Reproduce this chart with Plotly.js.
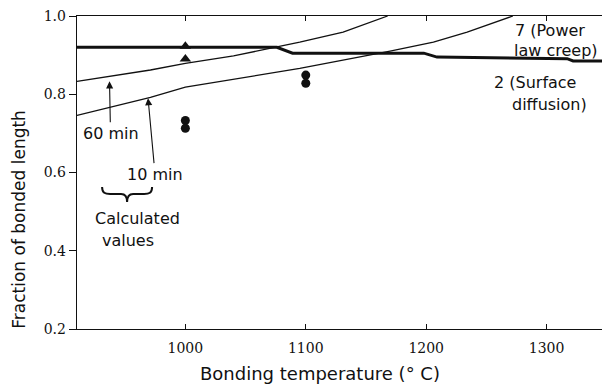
<!DOCTYPE html>
<html>
<head>
<meta charset="utf-8">
<script src="https://cdn.plot.ly/plotly-3.0.1.min.js"></script>
<style>html,body{margin:0;padding:0;background:#fff;}#chart{width:602px;height:385px;}</style>
</head>
<body>
<div id="chart"></div>
<script>
// Calculated curve, 60 min
var temp60 = [910, 937, 971, 1000, 1040, 1076, 1095, 1131, 1168];
var frac60 = [0.833, 0.846, 0.862, 0.879, 0.898, 0.921, 0.933, 0.959, 1.0];
// Calculated curve, 10 min
var temp10 = [910, 971, 1000, 1040, 1095, 1170, 1206, 1234, 1272];
var frac10 = [0.746, 0.792, 0.818, 0.838, 0.866, 0.910, 0.933, 0.959, 1.0];
// Mechanism 2 (surface diffusion) boundary
var tempSurf = [910, 1076, 1089, 1198, 1209, 1317, 1322, 1346];
var fracSurf = [0.920, 0.920, 0.905, 0.905, 0.895, 0.891, 0.885, 0.885];
// Experimental points
var tempTri = [1000, 1000];
var fracTri = [0.923, 0.890];
var tempDot = [1000, 1000, 1100, 1100];
var fracDot = [0.733, 0.713, 0.849, 0.828];
// Axis ticks
var xTicks = [1000, 1100, 1200, 1300];
var yTicks = [0.2, 0.4, 0.6, 0.8, 1.0];

var ink = '#111';
var sans = 'DejaVu Sans, sans-serif';

var traces = [
  {x: temp60, y: frac60, mode: 'lines', line: {color: ink, width: 1.3}, name: '60 min', hoverinfo: 'skip'},
  {x: temp10, y: frac10, mode: 'lines', line: {color: ink, width: 1.3}, name: '10 min', hoverinfo: 'skip'},
  {x: tempSurf, y: fracSurf, mode: 'lines', line: {color: ink, width: 3}, name: '2 (Surface diffusion)', hoverinfo: 'skip'},
  {x: tempTri, y: fracTri, mode: 'markers', marker: {symbol: 'triangle-up', size: 10, color: ink}, name: 'tri'},
  {x: tempDot, y: fracDot, mode: 'markers', marker: {symbol: 'circle', size: 9, color: ink}, name: 'dot'}
];

var annFont = {family: sans, size: 16, color: ink};
var layout = {
  width: 602, height: 385,
  margin: {l: 77, r: 0, t: 16, b: 56},
  paper_bgcolor: '#fff', plot_bgcolor: '#fff',
  showlegend: false,
  xaxis: {
    range: [910, 1346], tickvals: xTicks, ticks: 'inside', ticklen: 5, tickcolor: ink,
    showline: true, linecolor: ink, linewidth: 1.3, mirror: 'ticks', showgrid: false, zeroline: false,
    tickfont: {family: 'DejaVu Serif, serif', size: 14, color: ink}, ticklabelstandoff: 6
  },
  yaxis: {
    range: [0.2, 1.0], tickvals: yTicks, tickformat: '.1f', ticks: 'outside', ticklen: 7, tickcolor: ink,
    showline: true, linecolor: ink, linewidth: 1.3, showgrid: false, zeroline: false,
    tickfont: {family: 'DejaVu Serif, serif', size: 14, color: ink}
  },
  shapes: [
    {type: 'path', xref: 'x', yref: 'y', xsizemode: 'pixel', ysizemode: 'pixel', xanchor: 951.6, yanchor: 0.545,
     path: 'M -25,7 C -25,1 -22,0 -17,0 L -6,0 C -2,0 0,-3 0,-8 C 0,-3 2,0 6,0 L 17,0 C 22,0 25,1 25,7',
     line: {color: ink, width: 2}}
  ],
  annotations: [
    {xref: 'x', yref: 'paper', x: 1112, y: 0, yshift: -44, yanchor: 'middle', showarrow: false,
     text: 'Bonding temperature (° C)', font: {family: sans, size: 18, color: ink}},
    {xref: 'paper', yref: 'y', x: 0, xshift: -58, y: 0.515, yshift: -14, xanchor: 'center', showarrow: false, textangle: -90,
     text: 'Fraction of bonded length', font: {family: sans, size: 17, color: ink}},
    {x: 937, y: 0.833, ax: 1, ay: 52, text: '60 min', showarrow: true, arrowhead: 2, arrowsize: 1.3, arrowwidth: 1.1, arrowcolor: ink, font: annFont},
    {x: 969, y: 0.790, ax: 7, ay: 76, text: '10 min', showarrow: true, arrowhead: 2, arrowsize: 1.3, arrowwidth: 1.1, arrowcolor: ink, font: annFont},
    {x: 923, y: 0.483, xanchor: 'left', yanchor: 'middle', text: 'Calculated', showarrow: false, font: annFont},
    {x: 929, y: 0.427, xanchor: 'left', yanchor: 'middle', text: 'values', showarrow: false, font: annFont},
    {x: 1272, y: 0.962, xanchor: 'left', yanchor: 'middle', text: '7 (Power', showarrow: false, font: annFont},
    {x: 1271, y: 0.913, xanchor: 'left', yanchor: 'middle', text: 'law creep)', showarrow: false, font: annFont},
    {x: 1255, y: 0.830, xanchor: 'left', yanchor: 'middle', text: '2 (Surface', showarrow: false, font: annFont},
    {x: 1270, y: 0.775, xanchor: 'left', yanchor: 'middle', text: 'diffusion)', showarrow: false, font: annFont}
  ]
};

Plotly.newPlot('chart', traces, layout, {staticPlot: true, displayModeBar: false});
</script>
</body>
</html>
